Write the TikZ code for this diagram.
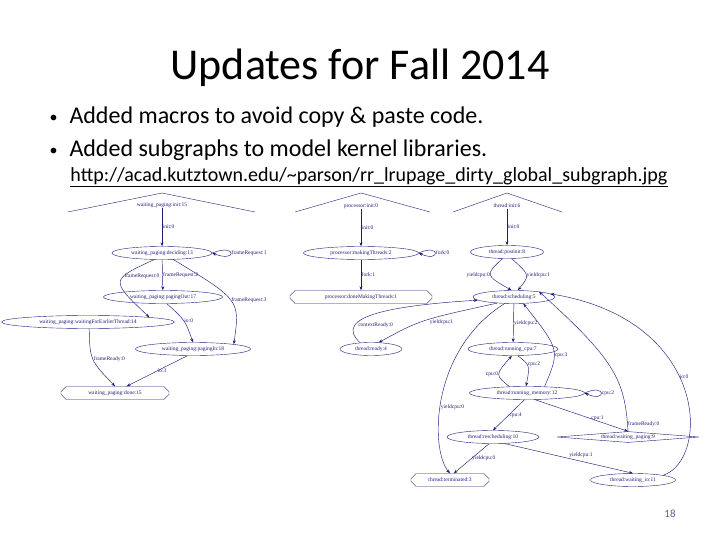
\documentclass[tikz,border=0pt]{standalone}
\usepackage{fontspec}
\setmainfont{Carlito}
\newfontfamily\gfont{Liberation Serif}
\usetikzlibrary{shapes.geometric,shapes.misc,arrows.meta}
\definecolor{gv}{RGB}{30,30,120}
\begin{document}
\begin{tikzpicture}[x=1pt,y=-1pt,
 g/.style={font=\gfont\fontsize{5.5}{5.5}\selectfont,text=gv,inner sep=0.5pt},
 el/.style={g,draw=gv,ellipse,line width=0.4pt,minimum height=13pt,inner sep=0pt},
 oc/.style={g,draw=gv,chamfered rectangle,chamfered rectangle xsep=2pt,line width=0.4pt,minimum height=13pt},
 dm/.style={g,draw=gv,diamond,aspect=9,inner sep=0pt,line width=0.4pt},
 lb/.style={g},
 e/.style={draw=gv,line width=0.45pt,-{Stealth[length=4pt,width=3pt]}},
 sh/.style={draw=gv,line width=0.4pt}]
\useasboundingbox (0,0) rectangle (720,540);
\node[font=\fontsize{44}{48}\selectfont] (title) at (360,68) {Updates for Fall 2014};
\node[anchor=west,font=\fontsize{24}{28}\selectfont] (b1) at (46,117) {\raisebox{1pt}{\fontsize{16}{16}\selectfont\textbullet}\hspace{12pt}Added macros to avoid copy \& paste code.};
\node[anchor=west,font=\fontsize{24}{28}\selectfont] (b2) at (46,150) {\raisebox{1pt}{\fontsize{16}{16}\selectfont\textbullet}\hspace{12pt}Added subgraphs to model kernel libraries.};
\node[font=\fontsize{20}{24}\selectfont] (url) at (369,177) {\underline{http://acad.kutztown.edu/\textasciitilde parson/rr\_lrupage\_dirty\_global\_subgraph.jpg}};
\node[font=\fontsize{11}{12}\selectfont,text=gv!70] (pg) at (670,514) {18};
% left cluster
\draw[sh] (68,212) -- (162,193) -- (255,212);
\node[g] (wi) at (162,205) {waiting\_paging:init:15};
\node[el,minimum width=100pt] (dec) at (162,253) {waiting\_paging:deciding:13};
\node[el,minimum width=119pt] (po) at (163,297) {waiting\_paging:pagingOut:17};
\node[el,minimum width=173pt] (we) at (88,322) {waiting\_paging:waitingForEarlierThread:14};
\node[el,minimum width=115pt] (pi) at (193,349) {waiting\_paging:pagingIn:18};
\node[oc,minimum width=108pt] (dn) at (115,393) {waiting\_paging:done:15};
\draw[e] (wi) -- node[lb,right]{init:0} (dec);
\draw[e] (dec.east) .. controls +(25,-10) and +(25,10) .. node[lb,right]{frameRequest:1} (dec.east);
\draw[e] (dec) -- node[lb,right]{frameRequest:2} (po);
\draw[e] (dec.220) .. controls (110,280) .. node[lb,right,pos=0.35]{frameRequest:0} (we.north east);
\draw[e] (dec.330) .. controls (240,300) .. node[lb,right,pos=0.5]{frameRequest:3} (pi.north east);
\draw[e] (po.-60) .. controls (185,320) .. node[lb,right]{io:0} (pi.north);
\draw[e] (we.-80) .. controls (90,360) .. node[lb,right]{frameReady:0} (dn.north);
\draw[e] (pi.230) -- node[lb,right]{io:3} (dn.30);
% middle
\draw[sh] (295,212) -- (361,193) -- (430,212);
\node[g] (pinit) at (361,206) {processor:init:0};
\node[el,minimum width=115pt] (mt) at (361,253) {processor:makingThreads:2};
\node[oc,minimum width=142pt] (dmt) at (361,297) {processor:doneMakingThreads:1};
\draw[e] (pinit) -- node[lb,right]{init:0} (mt);
\draw[e] (mt.east) .. controls +(22,-10) and +(22,10) .. node[lb,right]{fork:0} (mt.east);
\draw[e] (mt) -- node[lb,right]{fork:1} (dmt);
% right
\draw[sh] (453,212) -- (507,193) -- (562,212);
\node[g] (tinit) at (507,206) {thread:init:6};
\node[el,minimum width=73pt] (tp) at (507,252) {thread:postinit:8};
\node[el,minimum width=82pt] (ts) at (514,297) {thread:scheduling:5};
\node[el,minimum width=62pt] (tr) at (371,349) {thread:ready:4};
\node[el,minimum width=90pt] (rc) at (513,349) {thread:running\_cpu:7};
\node[el,minimum width=115pt] (rm) at (527,393) {thread:running\_memory:12};
\node[el,minimum width=92pt] (rs) at (493,437) {thread:rescheduling:10};
\node[dm,minimum width=142pt] (wp) at (628,437) {thread:waiting\_paging:9};
\node[oc,minimum width=78pt] (tt) at (450,480) {thread:terminated:3};
\node[el,minimum width=85pt] (wio) at (633,480) {thread:waiting\_io:11};
\draw[e] (tinit) -- node[lb,right]{init:0} (tp);
\draw[e] (tp.235) .. controls (485,275) .. node[lb,left,pos=0.5]{yieldcpu:0} (ts.110);
\draw[e] (tp.-55) .. controls (530,275) .. node[lb,right,pos=0.5]{yieldcpu:1} (ts.60);
\draw[e] (ts.200) .. controls (420,320) .. node[lb,below right,pos=0.45]{yieldcpu:1} (tr.40);
\draw[e] (tr.150) .. controls (330,315) and (400,305) .. node[lb,below right,pos=0.3]{contextReady:0} (ts.185);
\draw[e] (ts) -- node[lb,right]{yieldcpu:2} (rc);
\draw[e] (rm.20) .. controls (560,350) .. node[lb,right,pos=0.4]{cpu:3} (ts.-35);
\draw[e] (rc.-55) .. controls (530,365) .. node[lb,right,pos=0.4]{cpu:2} (rm.98);
\draw[e] (rm.160) .. controls (495,375) .. node[lb,left,pos=0.5]{cpu:0} (rc.-100);
\draw[e] (rm.east) .. controls +(22,-10) and +(22,10) .. node[lb,right]{cpu:2} (rm.east);
\draw[e] (ts.215) .. controls (430,350) and (430,450) .. node[lb,right,pos=0.55]{yieldcpu:0} (tt.north);
\draw[e] (rm.250) -- node[lb,right]{cpu:4} (rs.north);
\draw[e] (rm.-40) -- node[lb,right,pos=0.6]{cpu:1} (wp.north);
\draw[e] (wp.north) .. controls (625,380) and (615,360) .. node[lb,right,pos=0.05]{frameReady:0} (ts.12);
\draw[e] (wio.north east) .. controls (710,460) and (710,320) .. node[lb,right,pos=0.55]{io:0} (ts.5);
\draw[e] (rs.-120) -- node[lb,right]{yieldcpu:0} (tt.60);
\draw[e] (rs.-30) -- node[lb,above right,pos=0.5]{yieldcpu:1} (wio.north);
\end{tikzpicture}
\end{document}
